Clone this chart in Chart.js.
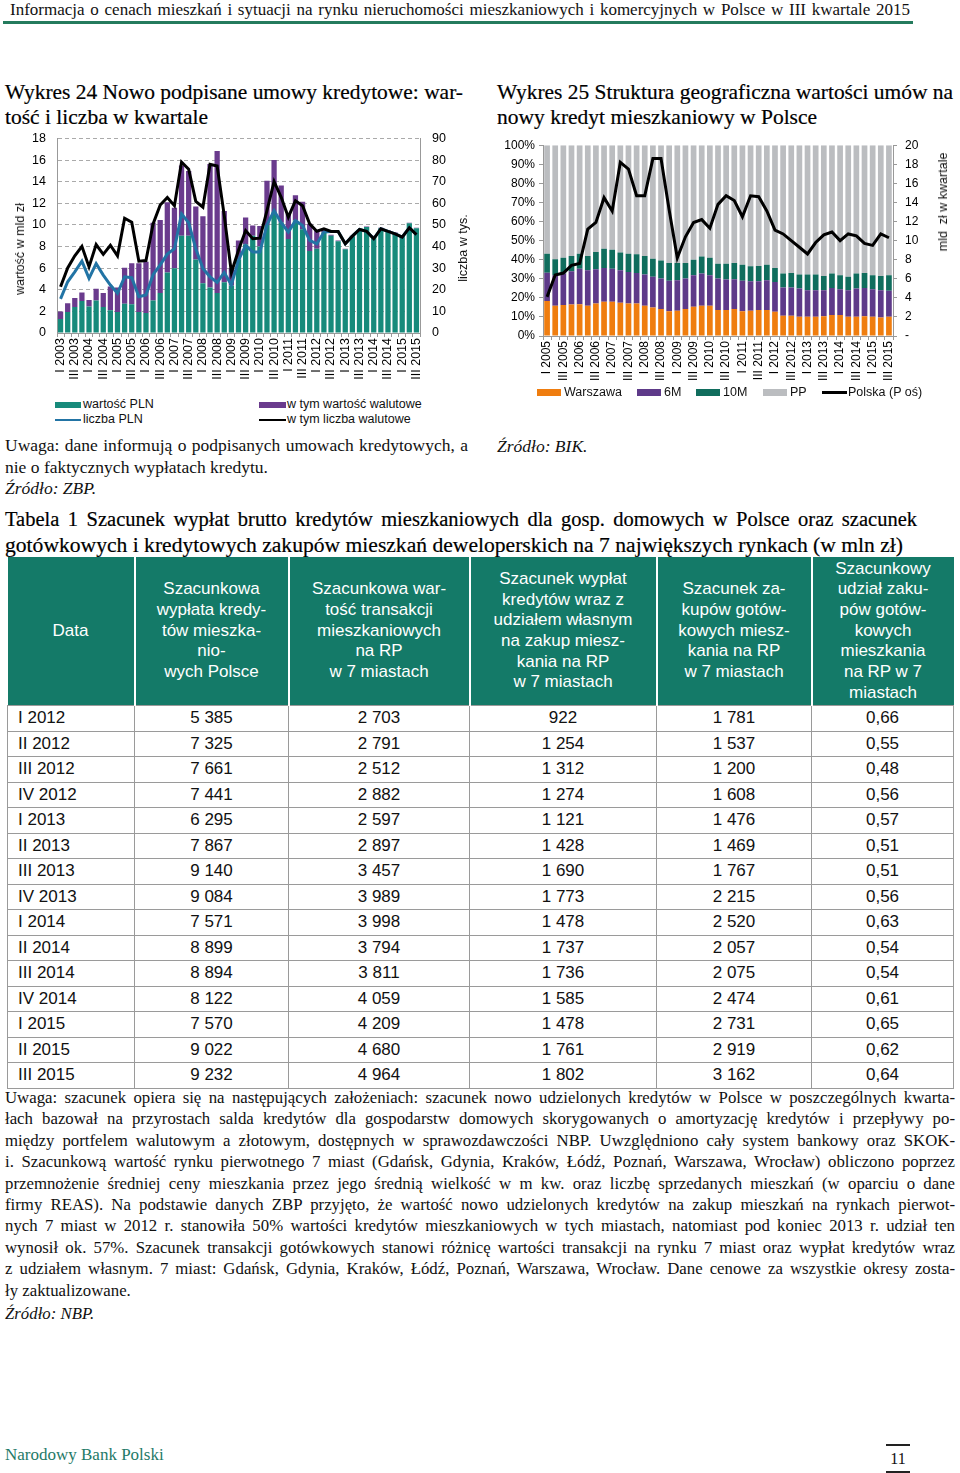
<!DOCTYPE html>
<html lang="pl">
<head>
<meta charset="utf-8">
<title>Wykres 24, Wykres 25, Tabela 1</title>
<script src="https://cdn.jsdelivr.net/npm/chart.js@4.4.1/dist/chart.umd.min.js"></script>
<style>
body { margin: 0; background: #fff; }
#page { position: relative; width: 960px; height: 1473px; overflow: hidden; font-family: "Liberation Serif", serif; color: #111; }
.abs { position: absolute; white-space: nowrap; }
.ttl { font-size: 21.5px; line-height: 25px; color: #000; -webkit-text-stroke: 0.2px #000; }
.vtitle { position: absolute; font-family: "Liberation Sans", Arial, sans-serif; font-size: 12.5px; white-space: nowrap; transform: translate(-50%, -50%) rotate(-90deg); }
.leg { position: absolute; font-family: "Liberation Sans", Arial, sans-serif; font-size: 12.5px; white-space: nowrap; }
.mk { position: absolute; }
#note > div { height: 21.4px; white-space: nowrap; }
table { border-collapse: collapse; table-layout: fixed; font-family: "Liberation Sans", Arial, sans-serif; }
th { background: #147a68; color: #fff; font-weight: normal; font-size: 17px; line-height: 20.7px; border-left: 2px solid #fff; padding: 0 2px; height: 148px; }
th:first-child { border-left: none; }
td { font-size: 17px; height: 24.5px; padding: 0; border: 1px solid #9a9a9a; text-align: center; line-height: 24px; }
td:first-child { text-align: left; padding-left: 10px; }
</style>
</head>
<body>
<div id="page">

  <div class="abs" data-w="900" style="left:10px; top:0px; font-size:17px; line-height:20px;">Informacja o cenach mieszkań i sytuacji na rynku nieruchomości mieszkaniowych i komercyjnych w Polsce w III kwartale 2015</div>
  <div class="abs" style="left:3px; top:21px; width:910px; height:3px; background:#247b5d;"></div>

  <div class="abs ttl" data-w="458" style="left:5px; top:80px;">Wykres 24 Nowo podpisane umowy kredytowe: war-</div>
  <div class="abs ttl" style="left:5px; top:105px;">tość i liczba w kwartale</div>

  <div class="abs ttl" data-w="456" style="left:497px; top:80px;">Wykres 25 Struktura geograficzna wartości umów na</div>
  <div class="abs ttl" style="left:497px; top:105px;">nowy kredyt mieszkaniowy w Polsce</div>

  <!-- wykres 24 -->
  <div class="abs" style="left:0px; top:119px; width:480px; height:273px;"><canvas id="chart24" width="480" height="273"></canvas></div>
  <div class="vtitle" style="left:20px; top:249px;">wartość w mld zł</div>
  <div class="vtitle" style="left:463px; top:248px;">liczba w tys.</div>

  <div class="mk" style="left:55px; top:402px; width:26px; height:6px; background:#178a7b;"></div>
  <div class="leg" style="left:83px; top:397px;">wartość PLN</div>
  <div class="mk" style="left:259px; top:402px; width:27px; height:6px; background:#6a3b8d;"></div>
  <div class="leg" style="left:287px; top:397px;">w tym wartość walutowe</div>
  <div class="mk" style="left:55px; top:419px; width:26px; height:2px; background:#2274a5;"></div>
  <div class="leg" style="left:83px; top:412px;">liczba PLN</div>
  <div class="mk" style="left:259px; top:419px; width:27px; height:2px; background:#000;"></div>
  <div class="leg" style="left:287px; top:412px;">w tym liczba walutowe</div>

  <div class="abs" data-w="463" style="left:5px; top:435px; font-size:17.5px; line-height:21.5px;">Uwaga: dane informują o podpisanych umowach kredytowych, a</div>
  <div class="abs" style="left:5px; top:456.5px; font-size:17.5px; line-height:21.5px;">nie o faktycznych wypłatach kredytu.</div>
  <div class="abs" style="left:5px; top:478px; font-size:17.5px; line-height:21.5px;"><i>Źródło: ZBP.</i></div>

  <!-- wykres 25 -->
  <div class="abs" style="left:490px; top:130px; width:470px; height:255px;"><canvas id="chart25" width="470" height="255"></canvas></div>
  <div class="vtitle" style="left:943px; top:202px;">mld&nbsp; zł w kwartale</div>

  <div class="mk" style="left:537px; top:389px; width:24px; height:7px; background:#ef7d0f;"></div>
  <div class="leg" style="left:564px; top:385px;">Warszawa</div>
  <div class="mk" style="left:637px; top:389px; width:24px; height:7px; background:#5e3a89;"></div>
  <div class="leg" style="left:664px; top:385px;">6M</div>
  <div class="mk" style="left:696px; top:389px; width:24px; height:7px; background:#106d5d;"></div>
  <div class="leg" style="left:723px; top:385px;">10M</div>
  <div class="mk" style="left:763px; top:389px; width:24px; height:7px; background:#bbbdc0;"></div>
  <div class="leg" style="left:790px; top:385px;">PP</div>
  <div class="mk" style="left:822px; top:391px; width:25px; height:3px; background:#000;"></div>
  <div class="leg" style="left:848px; top:385px;">Polska (P oś)</div>

  <div class="abs" style="left:497px; top:436px; font-size:17.5px; line-height:21.5px;"><i>Źródło: BIK.</i></div>

  <!-- tabela -->
  <div class="abs ttl" data-w="912" style="left:5px; top:506px; font-size:20.5px; line-height:26px;">Tabela 1 Szacunek wypłat brutto kredytów mieszkaniowych dla gosp. domowych w Polsce oraz szacunek</div>
  <div class="abs ttl" data-w="898" data-mode="scale" style="left:5px; top:532px; font-size:20.5px; line-height:26px;">gotówkowych i kredytowych zakupów mieszkań deweloperskich na 7 największych rynkach (w mln zł)</div>

  <table class="abs" id="tab" style="left:7px; top:557px; width:946px;">
    <colgroup><col style="width:127px"><col style="width:154px"><col style="width:181px"><col style="width:187px"><col style="width:155px"><col style="width:142px"></colgroup>
    <thead><tr>
      <th>Data</th>
      <th>Szacunkowa<br>wypłata kredy-<br>tów mieszka-<br>nio-<br>wych Polsce</th>
      <th>Szacunkowa war-<br>tość transakcji<br>mieszkaniowych<br>na RP<br>w 7 miastach</th>
      <th>Szacunek wypłat<br>kredytów wraz z<br>udziałem własnym<br>na zakup miesz-<br>kania na RP<br>w 7 miastach</th>
      <th>Szacunek za-<br>kupów gotów-<br>kowych miesz-<br>kania na RP<br>w 7 miastach</th>
      <th>Szacunkowy<br>udział zaku-<br>pów gotów-<br>kowych<br>mieszkania<br>na RP w 7<br>miastach</th>
    </tr></thead>
    <tbody id="tbody"></tbody>
  </table>

  <div class="abs" id="note" style="left:5px; top:1087px; font-size:16.8px; line-height:21.4px;">
    <div data-w="950">Uwaga: szacunek opiera się na następujących założeniach: szacunek nowo udzielonych kredytów w Polsce w poszczególnych kwarta-</div>
    <div data-w="950">łach bazował na przyrostach salda kredytów dla gospodarstw domowych skorygowanych o amortyzację kredytów i przepływy po-</div>
    <div data-w="950">między portfelem walutowym a złotowym, dostępnych w sprawozdawczości NBP. Uwzględniono cały system bankowy oraz SKOK-</div>
    <div data-w="950">i. Szacunkową wartość rynku pierwotnego 7 miast (Gdańsk, Gdynia, Kraków, Łódź, Poznań, Warszawa, Wrocław) obliczono poprzez</div>
    <div data-w="950">przemnożenie średniej ceny mieszkania przez jego średnią wielkość w m kw. oraz liczbę sprzedanych mieszkań (w oparciu o dane</div>
    <div data-w="950">firmy REAS). Na podstawie danych ZBP przyjęto, że wartość nowo udzielonych kredytów na zakup mieszkań na rynkach pierwot-</div>
    <div data-w="950">nych 7 miast w 2012 r. stanowiła 50% wartości kredytów mieszkaniowych w tych miastach, natomiast pod koniec 2013 r. udział ten</div>
    <div data-w="950">wynosił ok. 57%. Szacunek transakcji gotówkowych stanowi różnicę wartości transakcji na rynku 7 miast oraz wypłat kredytów wraz</div>
    <div data-w="950">z udziałem własnym. 7 miast: Gdańsk, Gdynia, Kraków, Łódź, Poznań, Warszawa, Wrocław. Dane cenowe za wszystkie okresy zosta-</div>
    <div>ły zaktualizowane.</div>
    <div style="margin-top:2px;"><i>Źródło: NBP.</i></div>
  </div>

  <div class="abs" style="left:5px; top:1445px; font-size:17px; line-height:20px; color:#1f7a68;">Narodowy Bank Polski</div>
  <div class="abs" style="left:886px; top:1444px; width:24px; height:2px; background:#222;"></div>
  <div class="abs" style="left:886px; top:1449px; width:24px; text-align:center; font-size:16px; line-height:20px;">11</div>
  <div class="abs" style="left:886px; top:1471px; width:24px; height:2px; background:#222;"></div>
</div>

<script>
// Wykres 24 - kwartaly I 2003 - III 2015
const quarters24 = [
    'I 2003', 'II 2003', 'III 2003', 'IV 2003', 'I 2004', 'II 2004', 'III 2004', 'IV 2004',
    'I 2005', 'II 2005', 'III 2005', 'IV 2005', 'I 2006', 'II 2006', 'III 2006', 'IV 2006',
    'I 2007', 'II 2007', 'III 2007', 'IV 2007', 'I 2008', 'II 2008', 'III 2008', 'IV 2008',
    'I 2009', 'II 2009', 'III 2009', 'IV 2009', 'I 2010', 'II 2010', 'III 2010', 'IV 2010',
    'I 2011', 'II 2011', 'III 2011', 'IV 2011', 'I 2012', 'II 2012', 'III 2012', 'IV 2012',
    'I 2013', 'II 2013', 'III 2013', 'IV 2013', 'I 2014', 'II 2014', 'III 2014', 'IV 2014',
    'I 2015', 'II 2015', 'III 2015'
];
// mld zl
const valuePLN = [1.3, 1.95, 2.4, 2.95, 2.45, 3.0, 2.4, 2.1, 1.95, 2.7, 2.65, 1.95, 1.85, 3.0, 3.7, 5.6,
    6.0, 9.0, 9.0, 6.8, 4.6, 4.2, 3.7, 4.7, 4.4, 6.8, 8.2, 9.0, 8.0, 10.0, 11.2, 10.2,
    8.7, 10.4, 9.6, 7.6, 7.8, 9.3, 9.0, 8.5, 7.75, 8.95, 9.45, 9.8, 8.95, 9.7, 9.45, 9.25,
    9.0, 10.15, 9.7];
const valueFX = [0.7, 0.8, 0.85, 0.8, 0.6, 1.1, 1.3, 2.2, 2.25, 3.35, 3.8, 4.5, 4.75, 7.2, 6.75, 6.5,
    5.6, 6.5, 6.0, 4.9, 6.2, 11.45, 13.15, 6.6, 1.6, 1.75, 2.5, 0.95, 1.9, 4.1, 4.8, 3.45,
    2.3, 2.35, 2.55, 2.5, 1.7, 0.25, 0.1, 0.05, 0.05, 0.05, 0.05, 0.05, 0.05, 0.05, 0.05, 0.05,
    0.05, 0.05, 0.05];
// tys. umow
const countPLN = [15.8, 23.7, 28.3, 33.2, 25.3, 32.1, 26.8, 22.2, 18.4, 26.0, 25.6, 16.8, 17.6, 27.0, 31.5, 36.5,
    39.0, 55.1, 51.0, 39.0, 29.8, 26.0, 23.4, 28.0, 22.2, 33.7, 40.5, 37.5, 37.5, 50.0, 56.6, 51.0,
    46.7, 52.0, 49.7, 42.9, 41.3, 46.7, 47.0, 47.0, 41.3, 44.8, 47.9, 47.0, 43.6, 48.2, 47.0, 45.9,
    44.4, 48.7, 45.5];
const countFX = [21.4, 30.1, 35.7, 40.1, 30.6, 40.9, 36.4, 40.6, 35.7, 53.1, 51.3, 33.2, 33.5, 50.5, 59.2, 62.7,
    58.9, 79.1, 75.8, 60.9, 58.2, 78.1, 77.3, 54.3, 28.0, 38.3, 47.4, 43.6, 43.9, 56.6, 70.1, 62.8,
    53.6, 61.2, 58.9, 50.5, 47.1, 48.2, 47.0, 47.0, 41.3, 44.8, 47.9, 47.0, 43.6, 48.2, 47.0, 45.9,
    44.4, 48.7, 45.5];

// Wykres 25 - kwartaly I 2005 - III 2015, udzialy w %
const quarters25 = quarters24.slice(8);
const warszawa = [18.4, 15.8, 16.2, 16.5, 16.7, 15.8, 17.0, 17.9, 17.9, 17.4, 17.0, 17.0, 15.8, 15.0, 14.1,
    13.0, 13.2, 14.1, 15.3, 15.8, 15.8, 13.6, 13.6, 14.1, 13.0, 13.2, 13.6, 13.6, 12.7, 10.6,
    10.6, 10.1, 10.1, 10.1, 10.4, 11.0, 11.0, 10.1, 10.1, 10.4, 10.1, 9.7, 10.1];
const sixM = [14.8, 16.0, 16.5, 17.4, 18.6, 18.6, 18.0, 17.8, 17.4, 17.0, 16.6, 16.0, 16.4, 16.0, 16.0,
    15.9, 16.0, 16.0, 16.5, 16.9, 16.0, 16.5, 16.0, 15.6, 16.0, 15.5, 15.1, 15.6, 15.6, 14.8,
    14.8, 14.8, 13.9, 13.9, 13.6, 14.2, 13.5, 13.9, 14.8, 14.8, 14.4, 14.3, 13.6];
const tenM = [9.9, 8.4, 8.3, 8.0, 7.8, 7.5, 9.0, 10.0, 9.9, 9.3, 9.5, 9.8, 9.7, 9.5, 9.5,
    9.4, 9.1, 8.2, 8.2, 9.0, 9.2, 7.8, 8.3, 8.6, 8.4, 7.8, 8.0, 8.2, 7.4, 7.3,
    7.6, 7.3, 8.2, 8.2, 7.5, 7.5, 7.3, 7.0, 7.8, 7.8, 7.3, 7.5, 8.1];
const pp = [56.9, 59.8, 59.0, 58.1, 56.9, 58.1, 56.0, 54.3, 54.8, 56.3, 56.9, 57.2, 58.1, 59.5, 60.4,
    61.7, 61.7, 61.7, 60.0, 58.3, 59.0, 62.1, 62.1, 61.7, 62.6, 63.5, 63.3, 62.6, 64.3, 67.3,
    67.0, 67.8, 67.8, 67.8, 68.5, 67.3, 68.2, 69.0, 67.3, 67.0, 68.2, 68.5, 68.2];
// mld zl w kwartale (prawa os)
const polska = [4.1, 6.4, 6.6, 7.4, 7.6, 11.2, 11.9, 14.5, 13.1, 18.2, 17.5, 14.7, 14.7, 18.6, 18.6,
    13.2, 8.2, 10.4, 11.9, 12.2, 11.3, 13.8, 14.7, 14.2, 12.5, 14.7, 14.6, 13.1, 11.1, 10.7,
    10.0, 9.3, 8.6, 9.8, 10.6, 10.9, 10.0, 10.7, 10.5, 9.7, 9.5, 10.7, 10.3];

// Tabela 1
const tableDates = ['I 2012', 'II 2012', 'III 2012', 'IV 2012', 'I 2013', 'II 2013', 'III 2013', 'IV 2013',
    'I 2014', 'II 2014', 'III 2014', 'IV 2014', 'I 2015', 'II 2015', 'III 2015'];
const wyplatyPolska = ['5 385', '7 325', '7 661', '7 441', '6 295', '7 867', '9 140', '9 084', '7 571', '8 899', '8 894', '8 122', '7 570', '9 022', '9 232'];
const transakcje7 = ['2 703', '2 791', '2 512', '2 882', '2 597', '2 897', '3 457', '3 989', '3 998', '3 794', '3 811', '4 059', '4 209', '4 680', '4 964'];
const wyplaty7 = ['922', '1 254', '1 312', '1 274', '1 121', '1 428', '1 690', '1 773', '1 478', '1 737', '1 736', '1 585', '1 478', '1 761', '1 802'];
const gotowka7 = ['1 781', '1 537', '1 200', '1 608', '1 476', '1 469', '1 767', '2 215', '2 520', '2 057', '2 075', '2 474', '2 731', '2 919', '3 162'];
const udzial7 = ['0,66', '0,55', '0,48', '0,56', '0,57', '0,51', '0,51', '0,56', '0,63', '0,54', '0,54', '0,61', '0,65', '0,62', '0,64'];

const tbody = document.getElementById('tbody');
tableDates.forEach(function (d, i) {
    const tr = document.createElement('tr');
    [d, wyplatyPolska[i], transakcje7[i], wyplaty7[i], gotowka7[i], udzial7[i]].forEach(function (t) {
        const td = document.createElement('td');
        td.textContent = t;
        tr.appendChild(td);
    });
    tbody.appendChild(tr);
});

// justify short lines, squeeze the ones that do not fit
function fitLines() {
    document.querySelectorAll('[data-w]').forEach(function (el) {
        const w = parseFloat(el.dataset.w);
        el.style.display = 'inline-block';
        el.style.width = 'auto';
        const natural = el.getBoundingClientRect().width;
        if (el.dataset.mode === 'scale' || natural > w) {
            el.style.transformOrigin = '0 0';
            el.style.transform = 'scaleX(' + (w / natural) + ')';
        } else {
            el.style.width = w + 'px';
            el.style.textAlign = 'justify';
            el.style.textAlignLast = 'justify';
        }
        if (el.parentNode.id === 'note') el.style.display = 'block';
    });
}
fitLines();

Chart.defaults.font.family = '"Liberation Sans", Arial, sans-serif';
Chart.defaults.font.size = 12;
Chart.defaults.color = '#000';
Chart.defaults.animation = false;

function everyOther(v, i) {
    return i % 2 === 0 ? this.getLabelForValue(v) : '';
}

function fixWidth(w) {
    return function (scale) { scale.width = w; };
}

function fixHeight(h) {
    return function (scale) { scale.height = h; };
}

new Chart(document.getElementById('chart24').getContext('2d'), {
    type: 'bar',
    data: {
        labels: quarters24,
        datasets: [
            { type: 'line', label: 'w tym liczba walutowe', data: countFX, yAxisID: 'y1', borderColor: '#000', borderWidth: 3, pointRadius: 0, order: 0 },
            { type: 'line', label: 'liczba PLN', data: countPLN, yAxisID: 'y1', borderColor: '#2274a5', borderWidth: 3, pointRadius: 0, order: 1 },
            { label: 'wartość PLN', data: valuePLN, backgroundColor: '#178a7b', stack: 'v', order: 5 },
            { label: 'w tym wartość walutowe', data: valueFX, backgroundColor: '#6a3b8d', stack: 'v', order: 5 }
        ]
    },
    options: {
        responsive: false,
        layout: { padding: { top: 7, right: 0, left: 0, bottom: 0 } },
        plugins: { legend: { display: false }, tooltip: { enabled: false } },
        datasets: { bar: { barPercentage: 0.74, categoryPercentage: 1 } },
        scales: {
            x: {
                stacked: true,
                grid: { display: true, drawOnChartArea: false, color: '#999', tickLength: 4 },
                border: { color: '#999' },
                ticks: { autoSkip: false, maxRotation: 90, minRotation: 90, padding: 1, font: { size: 12.5 }, callback: everyOther },
                afterFit: fixHeight(59)
            },
            y: {
                stacked: true,
                min: 0, max: 18,
                ticks: { stepSize: 2, padding: 11, font: { size: 12.5 } },
                grid: { color: '#aaa', drawTicks: false },
                border: { color: '#999', dash: [4, 3] },
                afterFit: fixWidth(57)
            },
            y1: {
                position: 'right',
                min: 0, max: 90,
                ticks: { stepSize: 10, padding: 12, font: { size: 12.5 } },
                grid: { drawOnChartArea: false, drawTicks: false },
                border: { color: '#999' },
                afterFit: fixWidth(60)
            }
        }
    }
});

new Chart(document.getElementById('chart25').getContext('2d'), {
    type: 'bar',
    data: {
        labels: quarters25,
        datasets: [
            { type: 'line', label: 'Polska (P oś)', data: polska, yAxisID: 'y1', borderColor: '#000', borderWidth: 3, pointRadius: 0, order: 0 },
            { label: 'Warszawa', data: warszawa, backgroundColor: '#ef7d0f', stack: 's', order: 5 },
            { label: '6M', data: sixM, backgroundColor: '#5e3a89', stack: 's', order: 5 },
            { label: '10M', data: tenM, backgroundColor: '#106d5d', stack: 's', order: 5 },
            { label: 'PP', data: pp, backgroundColor: '#bbbdc0', stack: 's', order: 5 }
        ]
    },
    options: {
        responsive: false,
        layout: { padding: { top: 9, right: 0, left: 0, bottom: 0 } },
        plugins: { legend: { display: false }, tooltip: { enabled: false } },
        datasets: { bar: { barPercentage: 0.7, categoryPercentage: 1 } },
        scales: {
            x: {
                stacked: true,
                grid: { display: true, drawOnChartArea: false, color: '#999', tickLength: 4 },
                border: { color: '#999' },
                ticks: { autoSkip: false, maxRotation: 90, minRotation: 90, padding: 1, callback: everyOther },
                afterFit: fixHeight(49)
            },
            y: {
                stacked: true,
                min: 0, max: 100,
                ticks: { stepSize: 10, padding: 4, callback: function (v) { return v + '%'; } },
                grid: { drawOnChartArea: false, color: '#999', tickLength: 4 },
                border: { color: '#999' },
                afterFit: fixWidth(53)
            },
            y1: {
                position: 'right',
                min: 0, max: 20,
                ticks: { stepSize: 2, padding: 8, callback: function (v) { return v === 0 ? '-' : v; } },
                grid: { drawOnChartArea: false, color: '#999', tickLength: 4 },
                border: { color: '#999' },
                afterFit: fixWidth(67)
            }
        }
    }
});
</script>
</body>
</html>
